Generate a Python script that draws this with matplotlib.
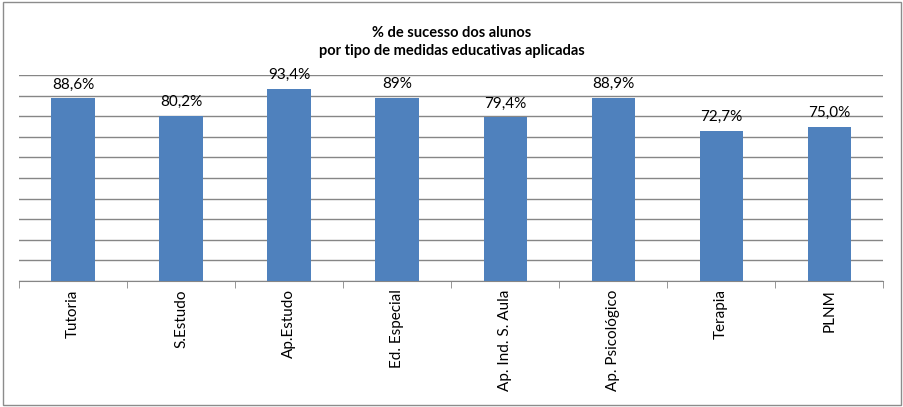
import matplotlib.pyplot as plt
from matplotlib.patches import Rectangle
import numpy as np

categorias = ["Tutoria", "S.Estudo", "Ap.Estudo", "Ed. Especial", "Ap. Ind. S. Aula",
              "Ap. Psicológico", "Terapia", "PLNM"]
sucesso = [88.6, 80.2, 93.4, 89.0, 79.4, 88.9, 72.7, 75.0]
rotulos = ["88,6%", "80,2%", "93,4%", "89%", "79,4%", "88,9%", "72,7%", "75,0%"]

plt.rcParams['font.family'] = ['Lato', 'DejaVu Sans']

fig = plt.figure(figsize=(9.04, 4.07), dpi=100)
fig.patches.append(Rectangle((0.003, 0.006), 0.994, 0.988, transform=fig.transFigure,
                             fill=False, edgecolor='#8c8c8c', linewidth=1))
ax = fig.add_axes([0.021, 0.3096, 0.956, 0.5061])

x = np.arange(len(categorias))
ax.bar(x, sucesso, width=0.4, color='#4f81bd', zorder=3)
for xi, v, r in zip(x, sucesso, rotulos):
    ax.annotate(r, (xi, v), xytext=(0, 5), textcoords='offset points',
                ha='center', va='bottom', fontsize=11)

ax.set_xlim(-0.5, len(categorias) - 0.5)
ax.set_ylim(0, 100)
ax.set_yticks(np.arange(0, 101, 10))
ax.yaxis.grid(True, color='#868686', linewidth=1)
ax.tick_params(axis='y', length=0, labelleft=False)

ax.set_xticks(x)
ax.set_xticklabels(categorias, rotation=90, fontsize=11)
ax.tick_params(axis='x', length=0, pad=6)
ax.set_xticks(np.arange(-0.5, len(categorias)), minor=True)
ax.tick_params(axis='x', which='minor', length=5, color='#868686', direction='out')

for s in ['top', 'right', 'left']:
    ax.spines[s].set_visible(False)
ax.spines['bottom'].set_color('#868686')

fig.text(0.5, 0.935, "% de sucesso dos alunos\npor tipo de medidas educativas aplicadas",
         ha='center', va='top', fontsize=10.5, fontweight='bold', linespacing=1.3)

fig.savefig("out.png", dpi=100)
